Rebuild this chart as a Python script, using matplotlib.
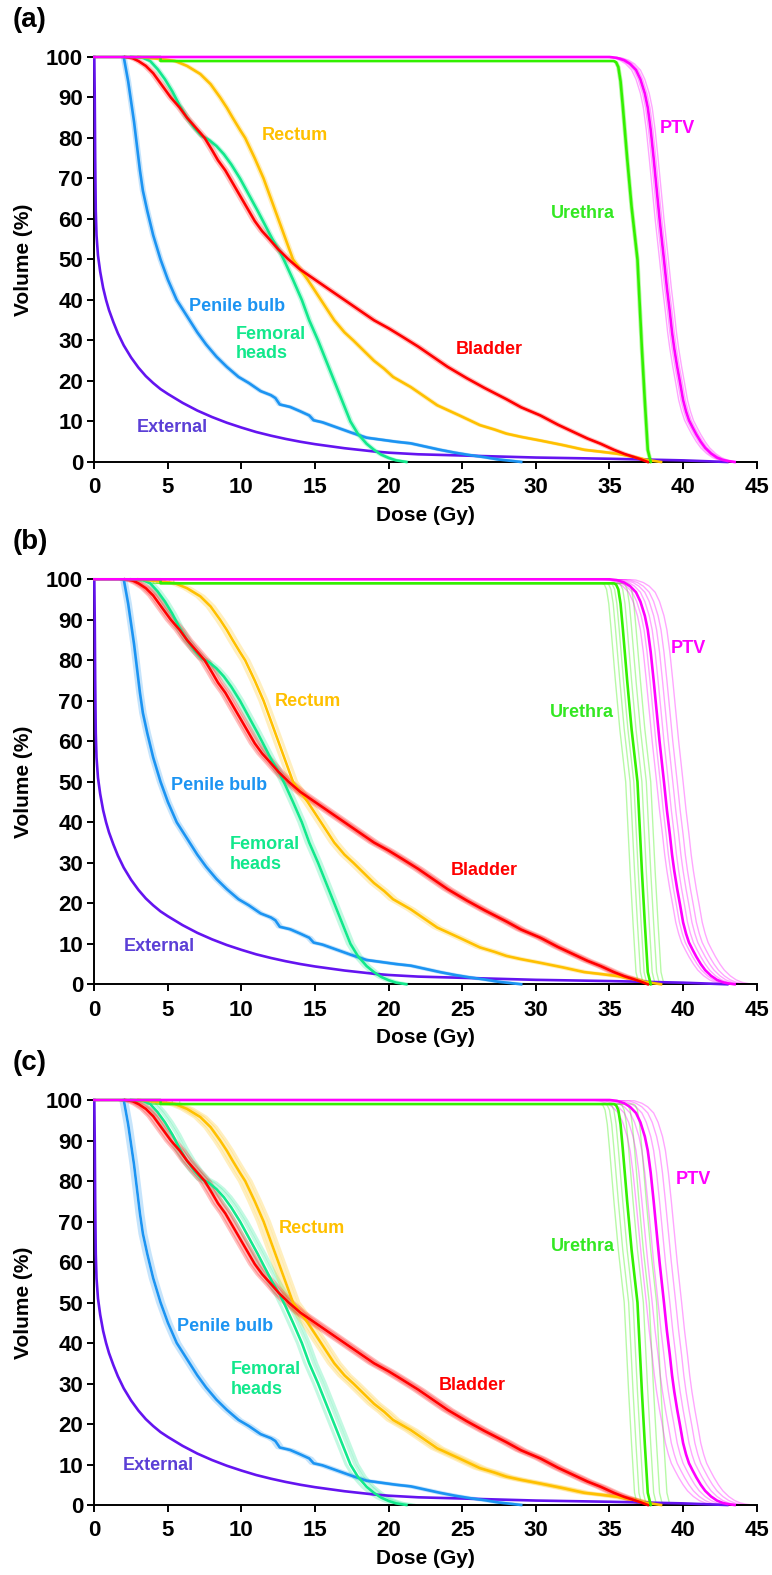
import matplotlib
matplotlib.use('Agg')
import matplotlib.pyplot as plt

plt.rcParams['font.family'] = ['Liberation Sans', 'DejaVu Sans']
plt.rcParams['font.weight'] = 'bold'

# mean DVH curves: dose (Gy) and volume (%)
ptv_dose = [0, 35.0, 35.5, 36.0, 36.4, 36.8, 37.1, 37.4, 37.6, 37.8, 38.0, 38.2, 38.4, 38.55, 38.7, 38.9,
            39.1, 39.25, 39.4, 39.6, 39.8, 40.0, 40.2, 40.4, 40.65, 40.9, 41.2, 41.5, 41.9, 42.3, 42.7, 43.1, 43.5]
ptv_vol = [100, 100, 99.8, 99.2, 98.3, 96.8, 94.5, 91, 87.5, 82, 75, 67.5, 60, 55, 50, 43,
           37, 32, 28, 23.5, 19.5, 15.3, 12.5, 10.3, 8.5, 6.8, 5.0, 3.5, 2.1, 1.1, 0.5, 0.2, 0]

urethra_dose = [0, 4.5, 4.5, 35.3, 35.45, 35.6, 35.75, 35.9, 36.2, 36.5, 36.9, 37.2, 37.4, 37.6, 37.8]
urethra_vol = [100, 100, 99, 99, 98.7, 97.5, 94, 88, 75, 63, 50, 28, 15, 3, 0]

rectum_dose = [3.0, 4.5, 5.5, 6.3, 7.2, 7.9, 8.55, 9.0, 9.4, 9.9, 10.25, 10.9, 11.5, 12.0, 12.5, 13.0,
               13.5, 14.0, 14.5, 15.4, 16.3, 17.0, 17.6, 18.3, 19.0, 19.7, 20.3, 21.5, 22.3, 23.3, 24.8,
               26.2, 27.2, 28.0, 29.0, 30.3, 31.8, 33.3, 34.5, 35.6, 36.6, 37.4, 38.5]
rectum_vol = [100, 99.5, 99, 97.8, 95.8, 93.3, 90, 87.5, 85, 82, 80, 75, 70, 65, 60, 55,
              50, 47.5, 45, 40, 35, 32, 30, 27.5, 25, 23, 21, 18.5, 16.5, 14, 11.5,
              9.1, 8, 7, 6.2, 5.3, 4.2, 3.0, 2.5, 2.0, 1.3, 0.6, 0]

bladder_dose = [2.1, 2.6, 3.0, 3.5, 4.0, 4.6, 5.2, 5.8, 6.3, 6.9, 7.5, 8.0, 8.4, 8.9, 9.3, 9.7, 10.1,
                10.5, 10.9, 11.4, 11.9, 12.5, 13.2, 14.0, 15.0, 16.0, 17.0, 18.0, 19.0, 20.0, 20.9, 22.0,
                23.0, 24.0, 25.3, 26.5, 28.0, 29.0, 30.3, 31.5, 32.5, 33.5, 34.4, 35.3, 36.0, 36.6, 37.1, 37.6]
bladder_vol = [100, 99.7, 99, 97.8, 96, 93, 90, 87.5, 85, 82.5, 80, 77, 74.5, 72, 69.5, 67, 64.5,
               62, 59.5, 57, 55, 52.5, 50, 47.5, 45, 42.5, 40, 37.5, 35, 33, 31, 28.5,
               26, 23.5, 20.7, 18.3, 15.5, 13.5, 11.5, 9.2, 7.5, 5.8, 4.5, 3.0, 2.0, 1.3, 0.7, 0]

femoral_dose = [2.5, 3.3, 3.8, 4.3, 4.8, 5.3, 5.8, 6.3, 6.8, 7.3, 7.8, 8.3, 8.8, 9.3, 9.9, 10.5, 11.1,
                11.6, 12.1, 12.6, 13.0, 13.5, 14.1, 14.6, 15.2, 15.75, 16.3, 16.85, 17.4, 17.9, 18.5,
                19.0, 19.5, 20.0, 20.5, 21.2]
femoral_vol = [100, 99.8, 99, 97, 94.5, 91.5, 88, 85, 82.5, 80.5, 79.5, 78, 76, 73.5, 70, 66, 62,
               58.5, 55, 52, 49, 45, 40, 35, 30, 25, 20, 15, 10, 7, 4.5,
               3, 1.8, 1, 0.4, 0]

bulb_dose = [2.0, 2.1, 2.3, 2.5, 2.7, 2.9, 3.1, 3.3, 3.6, 4.0, 4.5, 5.0, 5.6, 6.3, 7.0, 7.6, 8.3,
             9.0, 9.8, 10.5, 11.3, 12.0, 12.3, 12.6, 13.3, 14.0, 14.6, 14.9, 15.5, 16.5, 17.5, 18.5,
             19.5, 20.5, 21.5, 22.5, 23.5, 24.5, 25.5, 26.5, 27.5, 28.5, 29.0]
bulb_vol = [100, 98, 94, 89, 84, 78, 72, 67, 62, 56, 50, 45, 40, 36, 32, 29, 26,
            23.5, 21, 19.5, 17.5, 16.5, 15.8, 14.2, 13.6, 12.5, 11.5, 10.3, 9.8, 8.5, 7.2, 6.0,
            5.5, 5.0, 4.6, 3.8, 3.0, 2.3, 1.7, 1.2, 0.6, 0.2, 0]

external_dose = [0, 0.03, 0.06, 0.1, 0.15, 0.25, 0.4, 0.6, 0.8, 1.0, 1.3, 1.6, 2.0, 2.5, 3.0, 3.5, 4.0,
                 4.5, 5, 6, 7, 8, 9, 10, 11, 12, 13, 14, 15, 16, 17, 18, 19, 20, 22, 25, 30, 35, 40, 43]
external_vol = [100, 90, 75, 62, 56, 51, 47, 43, 40, 37.5, 34.5, 31.8, 28.8, 25.8, 23.3, 21.2, 19.5,
                18, 16.8, 14.6, 12.7, 11.1, 9.7, 8.5, 7.4, 6.5, 5.7, 5.0, 4.4, 3.9, 3.4, 3.0, 2.6, 2.3,
                1.9, 1.6, 1.1, 0.8, 0.4, 0]

# dose offsets (Gy) of the individual faint curves, for panels (a), (b), (c)
ptv_spread = [[-0.3, -0.15, 0.15, 0.3], [-0.5, -0.25, 0.3, 0.6, 0.9, 1.3], [-1.2, -0.8, -0.4, 0.4, 0.8, 1.2]]
urethra_spread = [[-0.1, 0.1], [-0.8, -0.5, -0.25, 0.3, 0.6, 0.9], [-0.9, -0.6, -0.3, 0.4, 0.8, 1.3]]
rectum_spread = [[-0.1, 0.1], [-0.25, 0.25], [-0.4, -0.2, 0.2, 0.4]]
bladder_spread = [[-0.15, 0.15], [-0.3, -0.15, 0.15, 0.3], [-0.35, -0.2, 0.2, 0.35]]
femoral_spread = [[-0.1, 0.1], [-0.2, 0.2], [-0.3, 0.3, 0.5]]
bulb_spread = [[-0.1, 0.1], [-0.15, 0.15], [-0.2, 0.2]]
external_spread = [[], [], []]

# label positions (dose, volume) per panel
ptv_label = [(39.6, 82.4), (40.35, 83), (40.7, 80.3)]
urethra_label = [(33.2, 61.4), (33.15, 67), (33.2, 63.8)]
rectum_label = [(13.65, 80.7), (14.5, 69.9), (14.8, 68.3)]
bladder_label = [(26.8, 27.8), (26.46, 28), (25.7, 29.6)]
femoral_label = [(9.6, 29.1), (9.23, 32), (9.25, 31)]
bulb_label = [(9.7, 38.5), (8.47, 49.2), (8.9, 44.1)]
external_label = [(5.3, 8.5), (4.44, 9.3), (4.37, 9.8)]

panel_names = ['(a)', '(b)', '(c)']

structures = [
    ('External', external_dose, external_vol, external_spread, external_label, '#6414F0', '#5B3FD6', 'center'),
    ('Penile bulb', bulb_dose, bulb_vol, bulb_spread, bulb_label, '#1C94F2', '#1C94F2', 'center'),
    ('Femoral\nheads', femoral_dose, femoral_vol, femoral_spread, femoral_label, '#12E88C', '#12E88C', 'left'),
    ('Rectum', rectum_dose, rectum_vol, rectum_spread, rectum_label, '#FFC000', '#FFC000', 'center'),
    ('Bladder', bladder_dose, bladder_vol, bladder_spread, bladder_label, '#FF0000', '#FF0000', 'center'),
    ('Urethra', urethra_dose, urethra_vol, urethra_spread, urethra_label, '#33F000', '#33E822', 'center'),
    ('PTV', ptv_dose, ptv_vol, ptv_spread, ptv_label, '#FF00FF', '#FF00FF', 'center'),
]

fig = plt.figure(figsize=(7.72, 15.75), dpi=100)
bottoms = [0.70667, 0.37505, 0.04444]
left, width, height = 0.12215, 0.85803, 0.25714

for p in range(3):
    ax = fig.add_axes([left, bottoms[p], width, height])
    for name, dose, vol, spread, lab, col, lcol, ha in structures:
        thin = name in ('PTV', 'Urethra')
        for s in spread[p]:
            ax.plot([d + s for d in dose], vol, color=col, lw=1.0 if thin else 2.2,
                    alpha=0.35 if thin else 0.25, zorder=2)
        ax.plot(dose, vol, color=col, lw=1.9, zorder=3, clip_on=False)
        ax.text(lab[p][0], lab[p][1], name, color=lcol, fontsize=13, fontweight='bold',
                ha=ha, va='center', zorder=5)

    ax.set_xlim(0, 45)
    ax.set_ylim(0, 100)
    ax.set_xticks(range(0, 46, 5))
    ax.set_yticks(range(0, 101, 10))
    for sp in ['top', 'right']:
        ax.spines[sp].set_visible(False)
    for sp in ['left', 'bottom']:
        ax.spines[sp].set_linewidth(1.4)
    ax.tick_params(axis='both', direction='out', length=5, width=1.4, labelsize=16)
    ax.tick_params(axis='x', pad=6)
    ax.tick_params(axis='y', pad=3)
    for t in ax.get_xticklabels() + ax.get_yticklabels():
        t.set_fontweight('bold')
    ax.set_xlabel('Dose (Gy)', fontsize=15, fontweight='bold')
    ax.set_ylabel('Volume (%)', fontsize=15, fontweight='bold')
    ax.xaxis.set_label_coords(0.5, -0.108)
    ax.yaxis.set_label_coords(-0.092, 0.5)

    top_px = (1 - bottoms[p] - height) * 1575
    fig.text(13 / 772, 1 - (top_px - 37) / 1575, panel_names[p], fontsize=20,
             fontweight='bold', ha='left', va='center')

fig.savefig('out.png', dpi=100)
